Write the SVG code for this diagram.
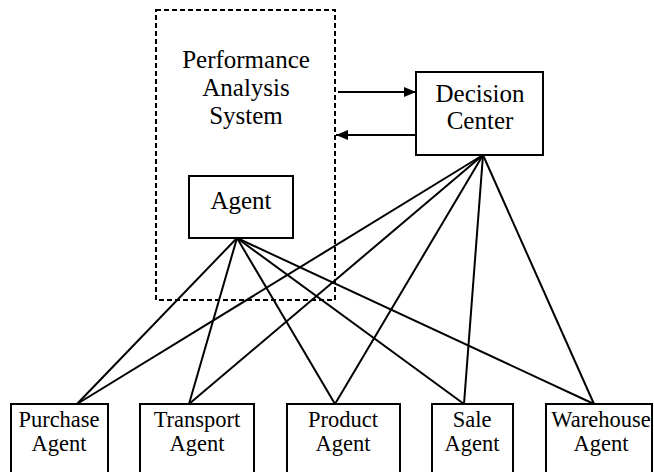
<svg xmlns="http://www.w3.org/2000/svg" width="654" height="472" viewBox="0 0 654 472">
<style>
.box{fill:#fff;stroke:#000;stroke-width:2}
.dash{fill:none;stroke:#000;stroke-width:2;stroke-dasharray:5,3}
.ln{stroke:#000;stroke-width:2;fill:none}
.lbl{font-family:"Liberation Serif","DejaVu Serif",serif;text-anchor:middle;fill:#000}
.big{font-size:25px}
.sm{font-size:22.5px}
</style>
<defs>
<marker id="ah" markerWidth="12" markerHeight="10" refX="12" refY="5" orient="auto" markerUnits="userSpaceOnUse">
<path d="M0,0 L12,5 L0,10 Z" fill="#000"/>
</marker>
</defs>
<rect width="654" height="472" fill="#fff"/>
<g id="pas" class="lbl big">
<rect class="dash" x="156" y="10" width="179" height="290"/>
<text x="246" y="68">Performance</text>
<text x="246" y="96">Analysis</text>
<text x="246" y="124">System</text>
</g>
<g id="connectors">
<line class="ln" x1="237" y1="238" x2="77" y2="404"/>
<line class="ln" x1="237" y1="238" x2="189" y2="404"/>
<line class="ln" x1="237" y1="238" x2="335" y2="404"/>
<line class="ln" x1="237" y1="238" x2="464" y2="404"/>
<line class="ln" x1="237" y1="238" x2="594" y2="404"/>
<line class="ln" x1="483" y1="155" x2="77" y2="404"/>
<line class="ln" x1="483" y1="155" x2="189" y2="404"/>
<line class="ln" x1="483" y1="155" x2="335" y2="404"/>
<line class="ln" x1="483" y1="155" x2="464" y2="404"/>
<line class="ln" x1="483" y1="155" x2="594" y2="404"/>
<line class="ln" x1="338" y1="92" x2="416" y2="92" marker-end="url(#ah)"/>
<line class="ln" x1="416" y1="135" x2="336" y2="135" marker-end="url(#ah)"/>
</g>
<g id="agent" class="lbl big">
<rect class="box" x="189" y="176" width="104" height="62"/>
<text x="241" y="209">Agent</text>
</g>
<g id="decision" class="lbl big">
<rect class="box" x="416" y="72" width="127" height="83"/>
<text x="480" y="102">Decision</text>
<text x="480" y="129">Center</text>
</g>
<g id="purchase" class="lbl sm">
<rect class="box" x="11" y="404" width="97" height="80"/>
<text x="59" y="427">Purchase</text>
<text x="59" y="451">Agent</text>
</g>
<g id="transport" class="lbl sm">
<rect class="box" x="140" y="404" width="114" height="80"/>
<text x="197" y="427">Transport</text>
<text x="197" y="451">Agent</text>
</g>
<g id="product" class="lbl sm">
<rect class="box" x="287" y="404" width="113" height="80"/>
<text x="343" y="427">Product</text>
<text x="343" y="451">Agent</text>
</g>
<g id="sale" class="lbl sm">
<rect class="box" x="432" y="404" width="81" height="80"/>
<text x="472" y="427">Sale</text>
<text x="472" y="451">Agent</text>
</g>
<g id="warehouse" class="lbl sm">
<rect class="box" x="546" y="404" width="106" height="80"/>
<text x="601" y="427">Warehouse</text>
<text x="601" y="451">Agent</text>
</g>
</svg>
